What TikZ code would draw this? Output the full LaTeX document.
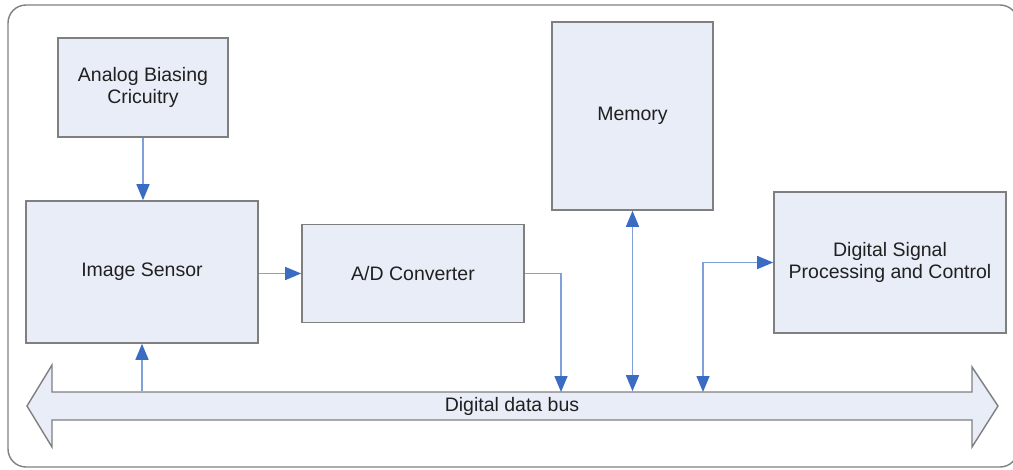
\documentclass[tikz,border=0pt]{standalone}
\usepackage{fontspec}
\setmainfont{Liberation Sans}
\usetikzlibrary{arrows.meta,calc}
\definecolor{boxfill}{HTML}{E8EDF7}
\definecolor{boxline}{HTML}{7F7F7F}
\definecolor{connline}{HTML}{7FA0D8}
\definecolor{tipblue}{HTML}{3A6CC4}
\definecolor{txt}{HTML}{202020}
\begin{document}
\begin{tikzpicture}[x=1pt,y=-1pt,
  blk/.style={draw=boxline,fill=boxfill,line width=1.6pt,align=center,text=txt,
    font=\fontsize{19.5}{21.7}\selectfont,inner sep=0pt},
  conn/.style={draw=connline,line width=1.5pt},
  tip/.style={-{Triangle[length=16pt,width=13pt,color=tipblue]}},
  dtip/.style={{Triangle[length=16pt,width=13pt,color=tipblue]}-{Triangle[length=16pt,width=13pt,color=tipblue]}}]
\useasboundingbox (0,0) rectangle (1013,469);
\begin{scope}
\clip (0,0) rectangle (1013,469);
\draw[boxline,line width=1.4pt,rounded corners=18pt] (8,5) rectangle (1018,467);
\end{scope}
% bus outline
\draw[boxline,fill=boxfill,line width=1.4pt,line join=miter]
  (27,406) -- (52,365) -- (52,392) -- (972,392) -- (972,367) -- (998,406)
  -- (972,447) -- (972,420) -- (52,420) -- (52,447) -- cycle;
\node[blk,draw=none,fill=none,minimum width=920pt,minimum height=28pt] (bus) at (512,406) {Digital data bus};
% blocks
\node[blk,minimum width=170pt,minimum height=99pt] (analog) at (143,87.5) {Analog Biasing\\Cricuitry};
\node[blk,minimum width=232pt,minimum height=142pt] (sensor) at (142,272) {Image Sensor};
\node[blk,minimum width=222pt,minimum height=98pt] (ad) at (413,273.5) {A/D Converter};
\node[blk,minimum width=161pt,minimum height=188pt] (mem) at (632.5,116) {Memory};
\node[blk,minimum width=232pt,minimum height=141pt] (dsp) at (890,262.5) {Digital Signal\\Processing and Control};
% bus taps
\coordinate (bA) at (561,392);
\coordinate (bD) at (703,392);
% connectors
\draw[conn,tip] (analog.south) -- (analog.south |- sensor.north);
\draw[conn,tip] (bus.north -| sensor.south) -- (sensor.south);
\draw[conn,tip] (sensor.east |- ad.west) -- (ad.west);
\draw[conn,tip] (ad.east) -| (bA);
\draw[conn,dtip] (mem.south) -- (mem.south |- bus.north);
\draw[conn,dtip] (bD) |- (dsp.west);
\end{tikzpicture}
\end{document}
